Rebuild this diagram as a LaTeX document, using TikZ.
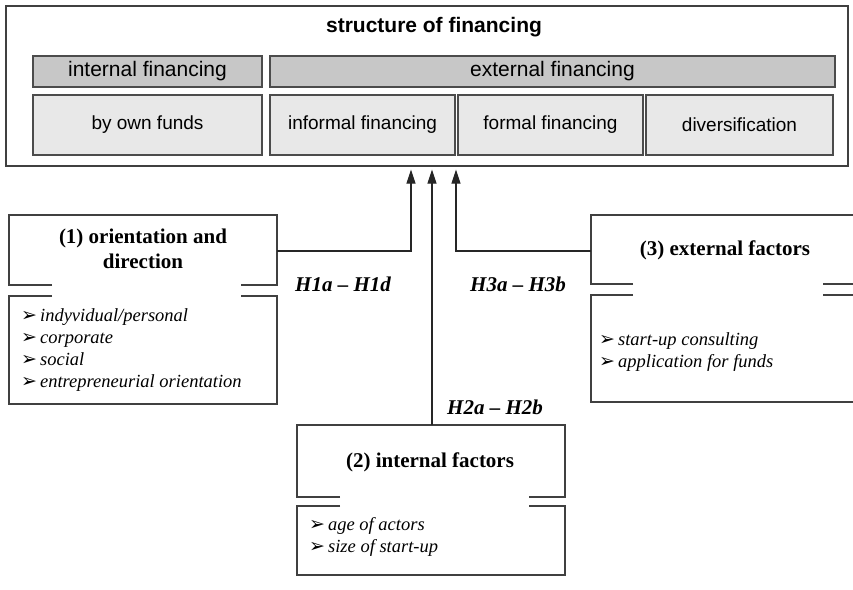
\documentclass[tikz,border=0pt]{standalone}
\usepackage{fontspec}
\setmainfont{Liberation Serif}
\setsansfont{Liberation Sans}
\newfontfamily\dingfont{DejaVu Sans}
\usetikzlibrary{arrows.meta}

\newcommand{\itembullet}{{\dingfont\upshape\mdseries\fontsize{19}{19}\selectfont ➢}\hspace{3pt}}

\tikzset{
  fincell/.style={draw=black!70, line width=1.1pt, inner sep=0pt},
  darkcell/.style={fincell, fill=black!22, minimum height=31pt, font=\sffamily\fontsize{21}{24}\selectfont},
  lightcell/.style={fincell, fill=black!9, minimum height=60pt, font=\sffamily\fontsize{19}{22}\selectfont},
  factortitle/.style={font=\bfseries\fontsize{21}{25}\selectfont, align=center},
  factorlist/.style={font=\itshape\fontsize{18.5}{22}\selectfont, align=left, anchor=west, inner sep=0pt},
  hyplabel/.style={font=\bfseries\itshape\fontsize{21}{25}\selectfont},
  boxline/.style={draw=black!75, line width=1.1pt},
  hyparrow/.style={draw=black!85, line width=1.1pt, -{Triangle[length=14pt,width=9pt]}, shorten >=3pt}
}

\begin{document}
\begin{tikzpicture}[x=1pt,y=-1pt]
    \clip (0,0) rectangle (853,589);

    % Structure of financing
    \node[draw=black!75, line width=1.1pt, minimum width=842pt, minimum height=160pt, inner sep=0pt] (frame) at (427,86) {};
    \node[font=\sffamily\bfseries\fontsize{21}{24}\selectfont] (title) at (434,27) {structure of financing};

    \node[darkcell, minimum width=229pt] (internal) at (147.5,71.5) {internal financing};
    \node[darkcell, minimum width=565pt] (external) at (552.5,71.5) {external financing};

    \node[lightcell, minimum width=229pt] (ownfunds) at (147.5,125) {by own funds};
    \node[lightcell, minimum width=185pt] (informal) at (362.5,125) {informal financing};
    \node[lightcell, minimum width=185pt] (formal) at (550.5,125) {formal financing};
    \node[lightcell, minimum width=187pt] (diversif) at (739.5,125) {diversification};

    % (1) orientation and direction
    \draw[boxline] (52,285) -- (9,285) -- (9,215) -- (277,215) -- (277,285) -- (241,285);
    \draw[boxline] (52,296) -- (9,296) -- (9,404) -- (277,404) -- (277,296) -- (241,296);
    \node[factortitle] (orient) at (143,249) {(1) orientation and\\direction};
    \node[factorlist] (orientlist) at (21,350) {\itembullet indyvidual/personal\\\itembullet corporate\\\itembullet social\\\itembullet entrepreneurial orientation};
    \coordinate (orient-out) at (277,251);

    % (2) internal factors
    \draw[boxline] (340,497) -- (297,497) -- (297,425) -- (565,425) -- (565,497) -- (529,497);
    \draw[boxline] (340,506) -- (297,506) -- (297,575) -- (565,575) -- (565,506) -- (529,506);
    \node[factortitle] (inner) at (430,462) {(2) internal factors};
    \node[factorlist] (innerlist) at (309,537) {\itembullet age of actors\\\itembullet size of start-up};
    \coordinate (inner-out) at (432,425);

    % (3) external factors
    \draw[boxline] (633,284) -- (591,284) -- (591,215) -- (859,215) -- (859,284) -- (823,284);
    \draw[boxline] (633,295) -- (591,295) -- (591,402) -- (859,402) -- (859,295) -- (823,295);
    \node[factortitle] (outer) at (725,250) {(3) external factors};
    \node[factorlist] (outerlist) at (599,352) {\itembullet start-up consulting\\\itembullet application for funds};
    \coordinate (outer-out) at (591,251);

    % Hypotheses
    \draw[hyparrow] (orient-out) -| ([xshift=-16pt]frame.south);
    \draw[hyparrow] (inner-out) -- ([xshift=5pt]frame.south);
    \draw[hyparrow] (outer-out) -| ([xshift=29pt]frame.south);

    \node[hyplabel] (h1) at (343,284) {H1a – H1d};
    \node[hyplabel] (h2) at (495,407) {H2a – H2b};
    \node[hyplabel] (h3) at (518,284) {H3a – H3b};
\end{tikzpicture}
\end{document}
